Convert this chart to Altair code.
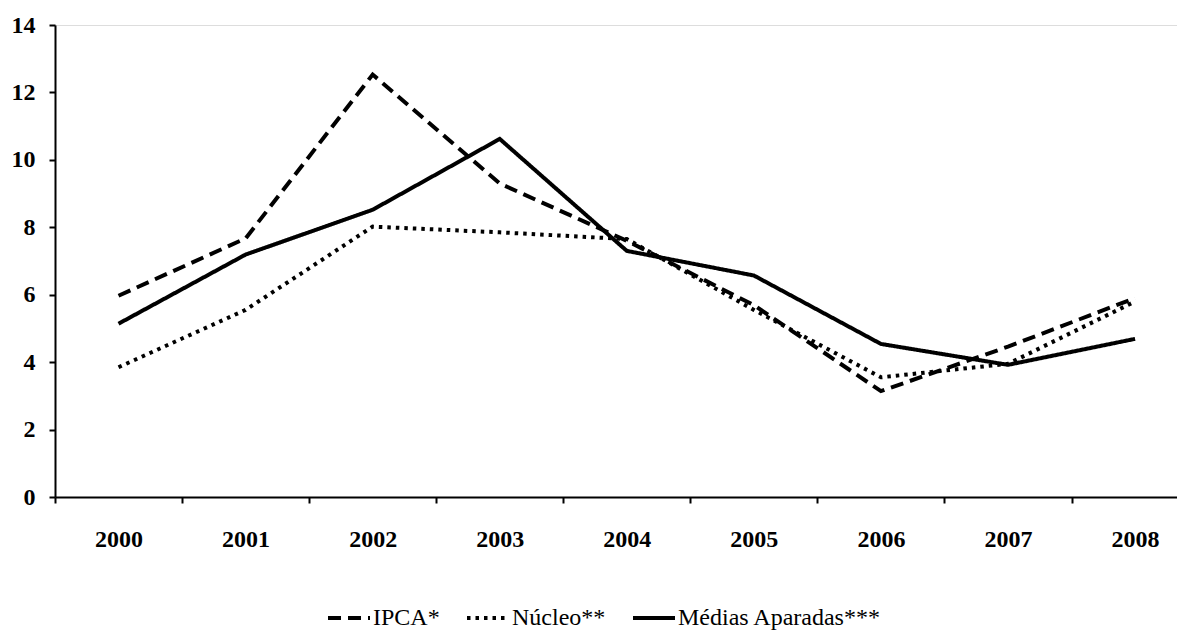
import altair as alt
import pandas as pd

years = [2000, 2001, 2002, 2003, 2004, 2005, 2006, 2007, 2008]
series_names = ["IPCA*", "Núcleo**", "Médias Aparadas***"]
ipca = [5.97, 7.67, 12.53, 9.30, 7.60, 5.69, 3.14, 4.46, 5.90]
nucleo = [3.85, 5.55, 8.02, 7.85, 7.65, 5.55, 3.55, 3.95, 5.80]
medias = [5.14, 7.19, 8.52, 10.62, 7.30, 6.57, 4.54, 3.92, 4.69]
y_ticks = [0, 2, 4, 6, 8, 10, 12, 14]

rows = []
for name, vals in zip(series_names, [ipca, nucleo, medias]):
    for yr, v in zip(years, vals):
        rows.append({"year": yr, "series": name, "value": v})
df = pd.DataFrame(rows)

FONT = "Times New Roman, Liberation Serif, Times, serif"
W, H = 1122, 472
x_max = 2008.33
ppy = W / (x_max - 1999.5)

chart = alt.Chart(df).mark_line(
    strokeWidth=4, color="black"
).encode(
    x=alt.X(
        "year:Q",
        scale=alt.Scale(domain=[1999.5, x_max], nice=False, zero=False),
        axis=alt.Axis(
            values=years, format="d", title=None,
            tickOffset=-ppy / 2, labelOffset=ppy / 2,
            tickSize=6, tickWidth=2, tickColor="black",
            domainWidth=2, domainColor="black",
            labelFont=FONT, labelFontSize=24, labelFontWeight="bold",
            labelColor="black", labelPadding=43, labelBaseline="alphabetic",
            labelOverlap=False, labelBound=False, labelFlush=False, grid=False,
        ),
    ),
    y=alt.Y(
        "value:Q",
        scale=alt.Scale(domain=[0, 14], nice=False),
        axis=alt.Axis(
            values=y_ticks, title=None, format="d",
            tickSize=6, tickWidth=2, tickColor="black",
            domainWidth=2, domainColor="black",
            labelFont=FONT, labelFontSize=24, labelFontWeight="bold",
            labelColor="black", labelPadding=14,
            labelOverlap=False, labelBound=False, labelFlush=False, grid=False,
        ),
    ),
    strokeDash=alt.StrokeDash(
        "series:N",
        sort=series_names,
        scale=alt.Scale(domain=series_names, range=[[13, 7], [3.5, 5], [1, 0]]),
        legend=alt.Legend(
            title=None, orient="none", legendX=271, legendY=570,
            direction="horizontal", symbolType="stroke", symbolSize=1764,
            symbolStrokeWidth=4, symbolStrokeColor="black",
            labelFont=FONT, labelFontSize=24, labelColor="black",
            labelOffset=1, columnPadding=19, padding=0, labelLimit=0,
        ),
    ),
    detail="series:N",
).properties(
    width=W, height=H,
    padding={"left": 47, "top": 17, "right": 0, "bottom": 137},
    autosize="none",
).configure_view(stroke=None).configure(background="white")

chart.save("out.html", embed_options={"renderer": "svg", "actions": False})
